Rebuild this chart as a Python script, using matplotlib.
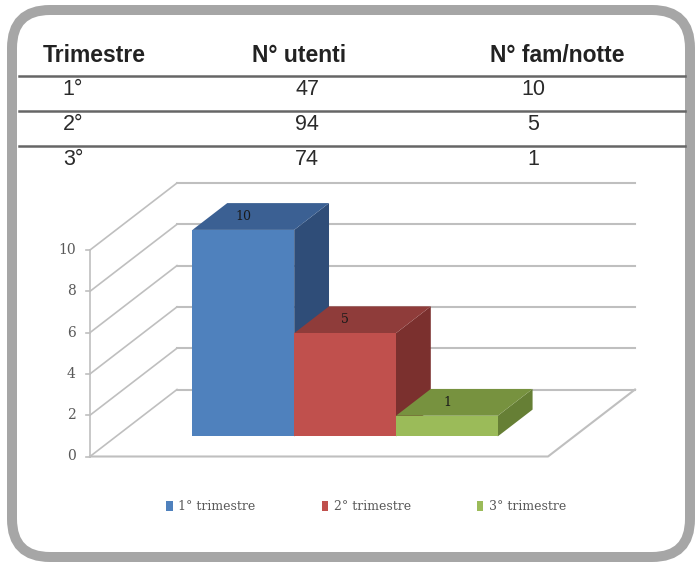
#%% libs
import matplotlib.pyplot as plt
from matplotlib.patches import FancyBboxPatch, Polygon, Rectangle

#%% data
trimestri = ['1°', '2°', '3°']
n_utenti = [47, 94, 74]
n_fam_notte = [10, 5, 1]
header = ['Trimestre', 'N° utenti', 'N° fam/notte']
serie = ['1° trimestre', '2° trimestre', '3° trimestre']
y_ticks = [0, 2, 4, 6, 8, 10]

colori_front = ['#4f81bd', '#c0504d', '#9bbb59']
colori_top = ['#3b6093', '#8f3c3a', '#77923f']
colori_side = ['#2f4d78', '#7b302e', '#667f35']

#%% figure
W, H = 695, 564
fig = plt.figure(figsize=(W / 100, H / 100), dpi=100)

# overlay in pixel coordinates for border and table
ov = fig.add_axes([0, 0, 1, 1])
ov.set_xlim(0, W)
ov.set_ylim(H, 0)
ov.axis('off')

ov.add_patch(FancyBboxPatch((12, 10), 678, 547,
                            boxstyle='round,pad=0,rounding_size=38',
                            fc='white', ec='#a6a6a6', lw=7.2, zorder=0))

# table
col_x = [94, 299, 557]
row_x = [73, 307, 533]
for cx, h in zip(col_x, header):
    ov.text(cx, 62, h, ha='center', va='baseline', fontsize=16.5,
            fontweight='bold', color='#222222', family='Liberation Sans')
for i, (t, u, f) in enumerate(zip(trimestri, n_utenti, n_fam_notte)):
    y_line = 76 + i * 35
    ov.plot([19, 685], [y_line, y_line], color='#666666', lw=1.8)
    for cx, val in zip(row_x, [t, str(u), str(f)]):
        ov.text(cx, y_line + 19, val, ha='center', va='baseline', fontsize=15.5,
                color='#2a2a2a', family='Liberation Sans')

#%% pseudo 3D chart in data units (x: bar widths, y: values)
px_x, px_y = 101.78, 20.65        # pixels per unit
x0_px, y0_px = 90, 456.5          # origin of front axis in pixels
ax = fig.add_axes([0, 0, 1, 1], facecolor='none')
ax.set_xlim(-x0_px / px_x, (W - x0_px) / px_x)
ax.set_ylim((y0_px - H) / px_y, y0_px / px_y)
ax.axis('off')

kx, ky = 87 / px_x, 67 / px_y     # depth vector
floor_w = 4.5
grid_c = '#bfbfbf'

for v in y_ticks:
    # back wall gridline and side wall diagonal
    ax.plot([kx, floor_w + kx], [v + ky, v + ky], color=grid_c, lw=1.5, zorder=1)
    ax.plot([0, kx], [v, v + ky], color=grid_c, lw=1.2, zorder=1)
    ax.plot([-0.035, 0], [v, v], color=grid_c, lw=1.2, zorder=1)
    ax.text(-0.14, v, str(v), ha='right', va='center', fontsize=10,
            color='#595959', family='DejaVu Serif')
ax.plot([0, 0], [0, max(y_ticks)], color=grid_c, lw=1.2, zorder=1)
# floor
ax.plot([0, floor_w, floor_w + kx], [0, 0, ky], color=grid_c, lw=1.5, zorder=1)

d0, d1 = 0.3, 0.7
for i, v in enumerate(n_fam_notte):
    xa = 0.75 + i
    xb = xa + 1
    side = Polygon([(xb + d0 * kx, d0 * ky), (xb + d1 * kx, d1 * ky),
                    (xb + d1 * kx, v + d1 * ky), (xb + d0 * kx, v + d0 * ky)],
                   fc=colori_side[i], ec='none', zorder=2)
    top = Polygon([(xa + d0 * kx, v + d0 * ky), (xb + d0 * kx, v + d0 * ky),
                   (xb + d1 * kx, v + d1 * ky), (xa + d1 * kx, v + d1 * ky)],
                  fc=colori_top[i], ec='none', zorder=2)
    front = Rectangle((xa + d0 * kx, d0 * ky), 1, v,
                      fc=colori_front[i], ec='none', zorder=2)
    for p in (side, top, front):
        ax.add_patch(p)
    dm = (d0 + d1) / 2
    ax.text(xa + 0.33 + dm * kx, v + dm * ky, str(v), ha='center', va='center',
            fontsize=9, color='#1a1a1a', family='DejaVu Serif', zorder=3)

#%% legend
handles = [Rectangle((0, 0), 1, 1, fc=c, ec='none') for c in colori_front]
fig.legend(handles, serie, loc='center', bbox_to_anchor=(0.527, 1 - 507 / H),
           ncol=3, frameon=False, handlelength=0.5,
           handleheight=0.8, handletextpad=0.45, columnspacing=5.3,
           prop={'family': 'DejaVu Serif', 'size': 9},
           labelcolor='#595959')

fig.savefig('out.png', dpi=100)
